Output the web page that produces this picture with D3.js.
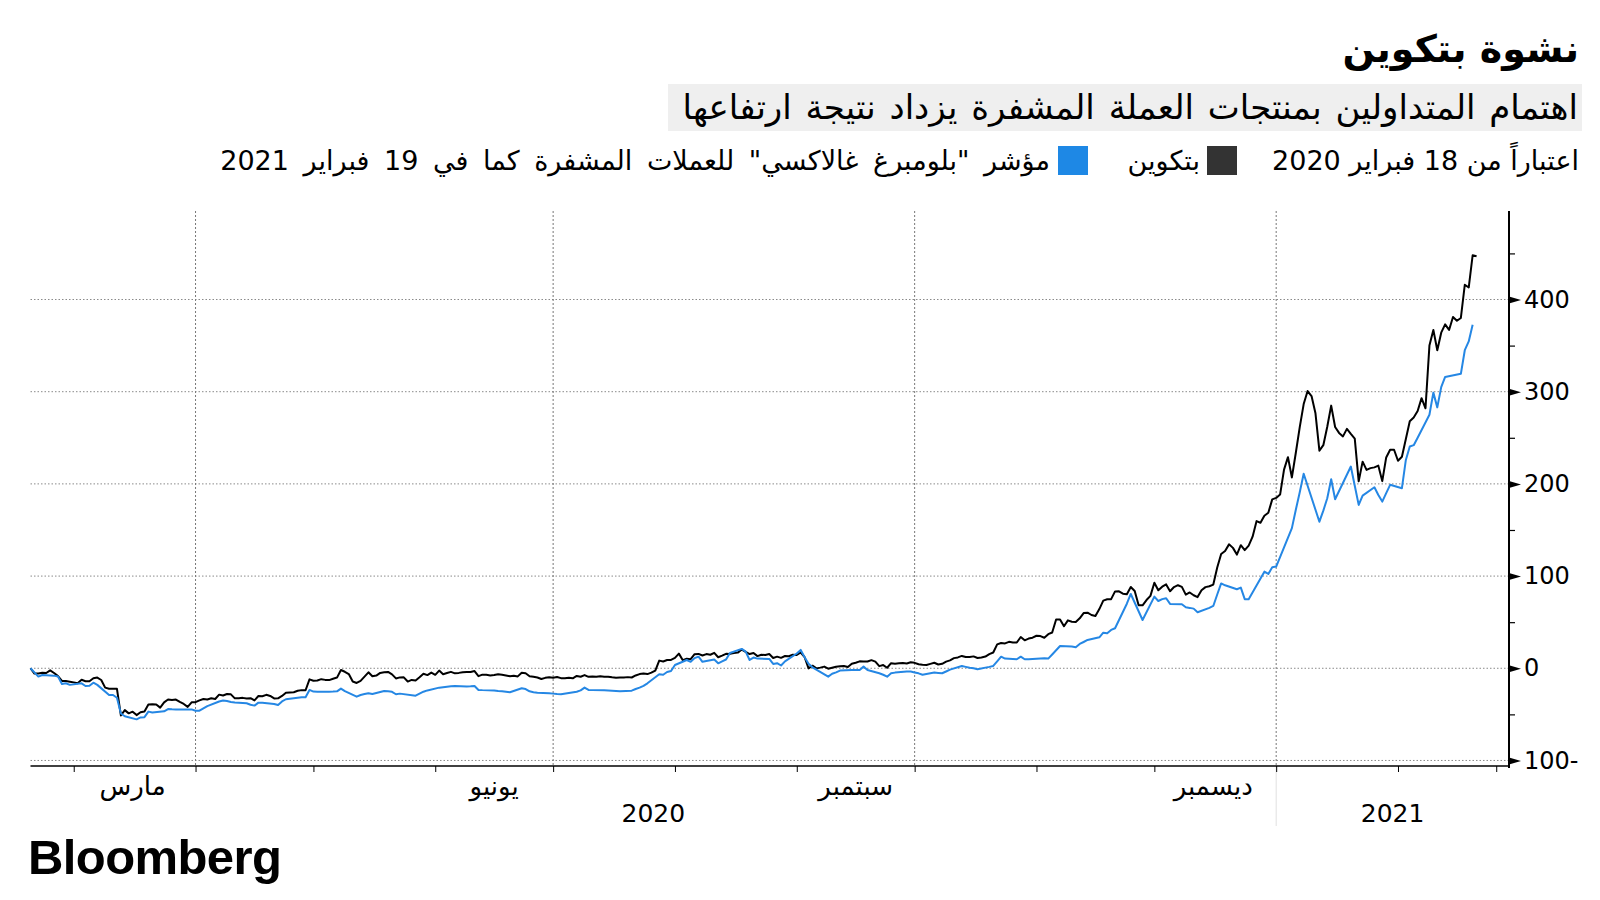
<!DOCTYPE html>
<html><head><meta charset="utf-8">
<script src="https://cdn.jsdelivr.net/npm/d3@7"></script>
<style>
html,body{margin:0;padding:0;background:#fff;}
svg{display:block;}
</style></head><body>
<svg id="chart" width="1600" height="900" font-family="DejaVu Sans, sans-serif"></svg>
<script>
// ---------- texts ----------
const titleText = "نشوة بتكوين";
const subtitleText = "اهتمام المتداولين بمنتجات العملة المشفرة يزداد نتيجة ارتفاعها";
const legendNote = "اعتباراً من 18 فبراير 2020";
const seriesNames = ["بتكوين", "مؤشر \"بلومبرغ غالاكسي\" للعملات المشفرة كما في 19 فبراير 2021"];
const seriesColors = ["#000000", "#2587e4"];
const legendSwatchColors = ["#333333", "#1e88e5"];
const monthLabels = [["2020-03-15","مارس"],["2020-06-15","يونيو"],["2020-09-15","سبتمبر"],["2020-12-15","ديسمبر"]];
const yearLabels = ["2020","2021"];
const yMajorTicks = [-100, 0, 100, 200, 300, 400];
const yMinorTicks = [-50, 50, 150, 250, 350, 450];
const xTickDates = ["2020-02-29","2020-03-31","2020-04-30","2020-05-31","2020-06-30","2020-07-31","2020-08-31","2020-09-30","2020-10-31","2020-11-30","2020-12-31","2021-01-31","2021-02-25"];
const xGridDates = ["2020-03-31","2020-06-30","2020-09-30","2020-12-31"];
const yearBreak = "2020-12-31";

// ---------- Bitcoin, % change since 18 Feb 2020 (daily) ----------
const btcFeb2020 = [0,-5.7,-5.6,-4.8,-5.1,-2.2,-5.1,-8.5,-13.7,-13.8,-14.5,-15.3]; // from Feb 18
const btcMar2020 = [-16.2,-12.5,-14.0,-14.1,-10.9,-10.1,-12.7,-21.0,-22.2,-22.3,-22.3,-51.2,-45.4,-48.9,-47.1,-50.8,-47.7,-46.9,-39.2,-39.1,-39.2,-42.7,-37.0,-33.9,-34.4,-33.9,-36.5,-38.7,-41.9,-36.9,-36.8];
const btcApr2020 = [-34.8,-33.3,-33.9,-32.6,-33.3,-28.6,-29.5,-27.9,-28.3,-32.6,-32.4,-32.1,-32.8,-32.4,-34.8,-30.1,-30.3,-28.8,-30.0,-32.7,-32.6,-30.0,-26.5,-26.2,-26.0,-24.4,-23.7,-23.8,-12.0,-13.5];
const btcMay2020 = [-13.3,-11.8,-12.6,-12.8,-11.3,-10.1,-1.9,-3.8,-6.3,-14.4,-15.9,-13.6,-9.0,-4.4,-8.6,-7.9,-5.0,-4.4,-4.0,-6.6,-11.0,-9.9,-9.8,-14.4,-12.6,-13.2,-9.7,-6.0,-7.4,-4.7,-7.1];
const btcJun2020 = [-2.5,-6.5,-5.2,-3.9,-5.5,-5.0,-4.3,-4.0,-4.1,-3.0,-8.5,-6.9,-7.0,-7.8,-7.4,-6.5,-7.1,-7.8,-8.6,-8.1,-8.8,-4.8,-5.4,-8.6,-9.2,-10.0,-11.6,-10.4,-9.8,-10.2];
const btcJul2020 = [-9.4,-10.7,-10.9,-10.3,-10.9,-8.3,-9.2,-7.4,-9.3,-8.8,-9.3,-8.7,-9.3,-9.1,-9.8,-10.3,-10.1,-9.9,-9.6,-10.0,-7.8,-6.3,-5.7,-6.3,-4.7,-2.5,8.3,7.4,9.0,9.1,11.2];
const btcAug2020 = [15.9,8.7,10.3,9.9,15.3,15.6,13.9,15.4,14.7,16.7,12.0,13.7,15.7,15.6,16.6,17.0,20.3,17.7,15.4,16.6,13.2,14.7,14.4,15.4,11.2,12.6,11.3,13.3,13.0,14.7,14.4];
const btcSep2020 = [17.1,12.0,-0.1,2.8,-0.1,0.7,1.8,-0.5,0.6,1.7,2.1,2.5,1.4,4.9,6.0,7.5,7.4,7.3,8.8,7.2,2.3,3.5,0.6,5.5,5.0,5.4,5.8,5.2,6.5,5.9];
const btcOct2020 = [4.3,3.8,3.6,4.8,6.0,4.1,4.8,7.2,8.6,11.0,11.8,13.4,12.2,12.2,12.9,11.2,11.6,12.7,15.4,17.1,25.9,27.4,27.0,28.7,28.0,28.0,33.9,30.3,32.2,33.2,35.3];
const btcNov2020 = [34.9,33.1,37.0,38.8,53.0,53.0,45.6,52.0,50.5,50.2,54.2,59.9,60.3,57.8,56.7,64.2,73.4,74.8,75.0,83.4,83.5,80.9,80.4,88.2,83.8,68.4,68.3,74.0,78.5,92.8];
const btcDec2020 = [84.6,88.5,91.0,83.6,88.1,90.1,88.3,79.9,82.2,79.2,77.2,84.6,88.0,89.0,90.8,109.3,123.9,127.2,134.4,130.6,123.3,133.5,128.2,133.0,142.7,159.6,157.8,165.5,168.7,183.2,184.8];
const btcJan2021 = [188.4,215.5,229.0,207.0,233.8,261.6,286.6,300.7,295.3,276.6,236.0,242.0,262.0,284.9,261.7,255.3,251.5,259.7,254.2,249.1,202.8,224.1,215.2,217.1,217.9,219.8,203.0,228.7,237.0,237.0,225.1];
const btcFeb2021 = [229.4,248.7,268.0,272.0,279.0,293.0,282.0,350.0,367.0,345.0,364.0,373.0,367.0,381.0,377.0,380.0,416.0,413.0,448.0,447.0];

// ---------- Bloomberg Galaxy Crypto Index, % change (trading days: [day, value]) ----------
const bgciFeb2020 = [[18,0],[20,-9],[21,-7.3],[24,-8],[25,-9],[26,-17],[27,-16.3],[28,-18]];
const bgciMar2020 = [[2,-16.3],[3,-19.2],[4,-19],[5,-15.6],[6,-18],[9,-29],[10,-29],[11,-32],[12,-49],[13,-52],[16,-55.4],[17,-53.3],[18,-53],[19,-47],[20,-48],[23,-46.7],[24,-44.2],[25,-44.5],[26,-44.6],[27,-44.6],[30,-44.6],[31,-46]];
const bgciApr2020 = [[1,-46],[2,-43.4],[3,-41],[6,-36],[7,-35],[8,-35.5],[9,-36.5],[10,-37],[13,-38],[14,-39.5],[15,-40.5],[16,-37.3],[17,-37.5],[20,-38.7],[21,-39.8],[22,-36],[23,-33.6],[24,-33],[27,-31.5],[28,-31.5],[29,-23.5],[30,-25.3]];
const bgciMay2020 = [[1,-25.5],[4,-25.5],[5,-25.3],[6,-25],[7,-22],[8,-24.8],[11,-30.8],[12,-29],[13,-28],[14,-27],[15,-28],[18,-24.6],[19,-25],[20,-25.5],[21,-28.2],[22,-27.5],[26,-29.7],[27,-27.5],[28,-25.4],[29,-24]];
const bgciJun2020 = [[1,-21],[2,-20.5],[3,-20],[4,-19.5],[5,-19.2],[8,-19.7],[9,-19.5],[10,-19.2],[11,-23.5],[12,-23.7],[15,-24],[16,-24.6],[17,-25],[18,-25.5],[19,-26],[22,-21.7],[23,-22.5],[24,-25],[25,-26],[26,-26.5],[29,-27],[30,-27.5]];
const bgciJul2020 = [[1,-28],[2,-28.2],[6,-25.4],[7,-24],[8,-21],[9,-23.5],[10,-23.7],[13,-23.8],[14,-24],[15,-24.3],[16,-24.6],[17,-25],[20,-24.3],[21,-22.5],[22,-21],[23,-19],[24,-16.3],[27,-6.5],[28,-7],[29,-4],[30,-2.9],[31,3.6]];
const bgciAug2020 = [[3,9],[4,7],[5,11],[6,12.6],[7,7],[10,9.5],[11,5.4],[12,7.5],[13,9.5],[14,16.5],[17,21],[18,18],[19,9],[20,11.6],[21,10.5],[24,10.1],[25,4.7],[26,5.5],[27,3],[28,7.5],[31,16]];
const bgciSep2020 = [[1,19.9],[2,12],[3,5],[4,1],[8,-9.1],[9,-6],[10,-4.4],[11,-2.5],[14,-1.8],[15,-1.8],[16,-1.8],[17,1.8],[18,-1.8],[21,-5.4],[22,-7],[23,-9.1],[24,-5.5],[25,-4.7],[28,-3.6],[29,-3.6],[30,-4.5]];
const bgciOct2020 = [[1,-5.5],[2,-7],[5,-4.7],[6,-5],[7,-5.4],[8,-3.5],[9,-1.5],[12,2.5],[13,1.5],[14,0.5],[15,0],[16,-1.1],[19,1.5],[20,2.5],[21,7.5],[22,12.6],[23,10.5],[26,9.8],[27,12.6],[28,9.8],[29,9.8],[30,10.1]];
const bgciNov2020 = [[2,10.8],[3,10.5],[4,15],[5,19.5],[6,24.2],[9,23.5],[10,22.8],[11,26.4],[12,28.5],[13,30.7],[16,33.6],[17,38.6],[18,38],[19,41.6],[20,43.4],[23,70],[24,80.6],[27,52.4],[30,77.7]];
const bgciDec2020 = [[1,73],[2,75],[3,76],[4,69.8],[7,69.5],[8,66.2],[9,65.5],[10,64.7],[11,60.8],[14,65.5],[15,67.6],[16,80],[17,92],[18,90],[21,85.7],[22,87.5],[23,75],[24,75],[28,104.8],[29,102.3],[30,109.6],[31,110.3]];
const bgciJan2021 = [[4,152],[5,172],[6,191],[7,211],[8,198],[11,159],[12,171],[13,184.5],[14,205],[15,183.4],[19,218.8],[20,198],[21,177.2],[22,187.3],[25,196.4],[26,188],[27,180.8],[28,190],[29,199]];
const bgciFeb2021 = [[1,195.3],[2,226],[3,240.5],[4,242],[5,250],[8,275],[9,299],[10,283],[11,305],[12,316],[16,319.4],[17,345],[18,354.5],[19,372.6]];

// ---------- assemble ----------
const utc = s => { const [Y,M,D] = s.split("-").map(Number); return new Date(Date.UTC(Y, M-1, D)); };
const daily = (Y, M, startDay, vals) => vals.map((v,i) => ({date: new Date(Date.UTC(Y, M-1, startDay+i)), value: v}));
const tdays = (Y, M, pairs) => pairs.map(([d,v]) => ({date: new Date(Date.UTC(Y, M-1, d)), value: v}));

const btc = [].concat(
  daily(2020,2,18,btcFeb2020), daily(2020,3,1,btcMar2020), daily(2020,4,1,btcApr2020),
  daily(2020,5,1,btcMay2020), daily(2020,6,1,btcJun2020), daily(2020,7,1,btcJul2020),
  daily(2020,8,1,btcAug2020), daily(2020,9,1,btcSep2020), daily(2020,10,1,btcOct2020),
  daily(2020,11,1,btcNov2020), daily(2020,12,1,btcDec2020), daily(2021,1,1,btcJan2021),
  daily(2021,2,1,btcFeb2021));
const bgci = [].concat(
  tdays(2020,2,bgciFeb2020), tdays(2020,3,bgciMar2020), tdays(2020,4,bgciApr2020),
  tdays(2020,5,bgciMay2020), tdays(2020,6,bgciJun2020), tdays(2020,7,bgciJul2020),
  tdays(2020,8,bgciAug2020), tdays(2020,9,bgciSep2020), tdays(2020,10,bgciOct2020),
  tdays(2020,11,bgciNov2020), tdays(2020,12,bgciDec2020), tdays(2021,1,bgciJan2021),
  tdays(2021,2,bgciFeb2021));

// ---------- layout ----------
const plotLeft = 30.5, plotRight = 1509, plotTop = 211, plotBottom = 766;
const svg = d3.select("#chart");

const x = d3.scaleUtc()
  .domain([new Date(Date.UTC(2020,1,18)), new Date(Date.UTC(2021,1,28,6))])
  .range([plotLeft, plotRight]);
const y = d3.scaleLinear().domain([-106, 496]).range([plotBottom, plotTop]);

// ---------- header ----------
svg.append("text").attr("x", 1579).attr("y", 62)
  .attr("direction","rtl").attr("text-anchor","start")
  .attr("font-size", 38).attr("font-weight","bold").attr("fill","#000")
  .text(titleText);

svg.append("rect").attr("x", 668).attr("y", 84).attr("width", 914).attr("height", 47).attr("fill", "#efefef");
svg.append("text").attr("x", 1578).attr("y", 119)
  .attr("direction","rtl").attr("text-anchor","start")
  .attr("font-size", 34).attr("word-spacing", 3).attr("fill","#000")
  .text(subtitleText);

// legend
const lg = svg.append("g").attr("font-size", 27).attr("fill", "#000");
lg.append("text").attr("x", 1579).attr("y", 170).attr("direction","rtl").attr("text-anchor","start").text(legendNote);
lg.append("rect").attr("x", 1207).attr("y", 146).attr("width", 30).attr("height", 29).attr("fill", legendSwatchColors[0]);
lg.append("text").attr("x", 1200).attr("y", 170).attr("direction","rtl").attr("text-anchor","start").text(seriesNames[0]);
lg.append("rect").attr("x", 1058).attr("y", 146).attr("width", 30).attr("height", 29).attr("fill", legendSwatchColors[1]);
lg.append("text").attr("x", 1050).attr("y", 170).attr("direction","rtl").attr("text-anchor","start")
  .attr("word-spacing", 6).text(seriesNames[1]);

// ---------- grid ----------
const grid = svg.append("g");
grid.selectAll("line.h").data(yMajorTicks).join("line")
  .attr("x1", plotLeft).attr("x2", plotRight)
  .attr("y1", d => y(d)).attr("y2", d => y(d))
  .attr("stroke", "#8a8a8a").attr("stroke-width", 1).attr("stroke-dasharray", "1.5,2");
grid.selectAll("line.v").data(xGridDates).join("line")
  .attr("x1", d => x(utc(d))).attr("x2", d => x(utc(d)))
  .attr("y1", plotTop).attr("y2", plotBottom)
  .attr("stroke", "#777").attr("stroke-width", 1).attr("stroke-dasharray", "2,2");
// year separator below axis
svg.append("line")
  .attr("x1", x(utc(yearBreak))).attr("x2", x(utc(yearBreak)))
  .attr("y1", plotBottom).attr("y2", plotBottom + 60)
  .attr("stroke", "#e0e0e0").attr("stroke-width", 1);

// ---------- lines ----------
const line = d3.line().x(d => x(d.date)).y(d => y(d.value));
svg.append("path").datum(btc).attr("d", line)
  .attr("fill","none").attr("stroke", seriesColors[0]).attr("stroke-width", 2).attr("stroke-linejoin","round");
svg.append("path").datum(bgci).attr("d", line)
  .attr("fill","none").attr("stroke", seriesColors[1]).attr("stroke-width", 2).attr("stroke-linejoin","round");

// ---------- x axis ----------
const xAxis = d3.axisBottom(x).tickValues(xTickDates.map(utc)).tickSize(6).tickSizeOuter(0).tickFormat("");
const gx = svg.append("g").attr("transform", `translate(0,${plotBottom})`).call(xAxis);
gx.select(".domain").remove();
gx.selectAll(".tick line").attr("stroke", "#000").attr("stroke-width", 1);
svg.append("line").attr("x1", plotLeft).attr("x2", plotRight)
  .attr("y1", plotBottom).attr("y2", plotBottom).attr("stroke", "#000").attr("stroke-width", 1.5);

svg.append("g").selectAll("text").data(monthLabels).join("text")
  .attr("x", d => x(utc(d[0]))).attr("y", 795)
  .attr("text-anchor", "middle").attr("font-size", 26).attr("fill", "#000")
  .text(d => d[1]);
const yearCenters = [
  (plotLeft + x(utc(yearBreak))) / 2,
  (x(utc(yearBreak)) + plotRight) / 2
];
svg.append("g").selectAll("text").data(yearLabels).join("text")
  .attr("x", (d,i) => yearCenters[i]).attr("y", 822)
  .attr("text-anchor", "middle").attr("font-size", 25).attr("fill", "#000")
  .text(d => d);

// ---------- y axis ----------
const fmt = d => d < 0 ? `${Math.abs(d)}-` : `${d}`;
const yAxis = d3.axisRight(y).tickValues(yMajorTicks).tickSize(0).tickPadding(15).tickFormat(fmt);
const gy = svg.append("g").attr("transform", `translate(${plotRight},0)`).call(yAxis);
gy.attr("font-family", null).attr("font-size", null);
gy.select(".domain").attr("stroke", "#000").attr("stroke-width", 2).attr("d", `M0,${plotTop}V${plotBottom + 2}`);
gy.selectAll(".tick text").attr("font-size", 24).attr("fill", "#000");
gy.selectAll(".tick").append("path").attr("d", "M0,-3.5L12,0L0,3.5Z").attr("fill", "#000");
const yMinor = d3.axisRight(y).tickValues(yMinorTicks).tickSize(6).tickFormat("");
const gym = svg.append("g").attr("transform", `translate(${plotRight},0)`).call(yMinor);
gym.select(".domain").remove();
gym.selectAll(".tick line").attr("stroke", "#000").attr("stroke-width", 1.2);

// ---------- branding ----------
svg.append("text").attr("x", 28).attr("y", 874)
  .style("font-family", "'Liberation Sans', Arial, sans-serif").attr("font-weight", "bold")
  .attr("font-size", 49).attr("letter-spacing", -0.6).attr("fill", "#000")
  .text("Bloomberg");
</script>
</body></html>
